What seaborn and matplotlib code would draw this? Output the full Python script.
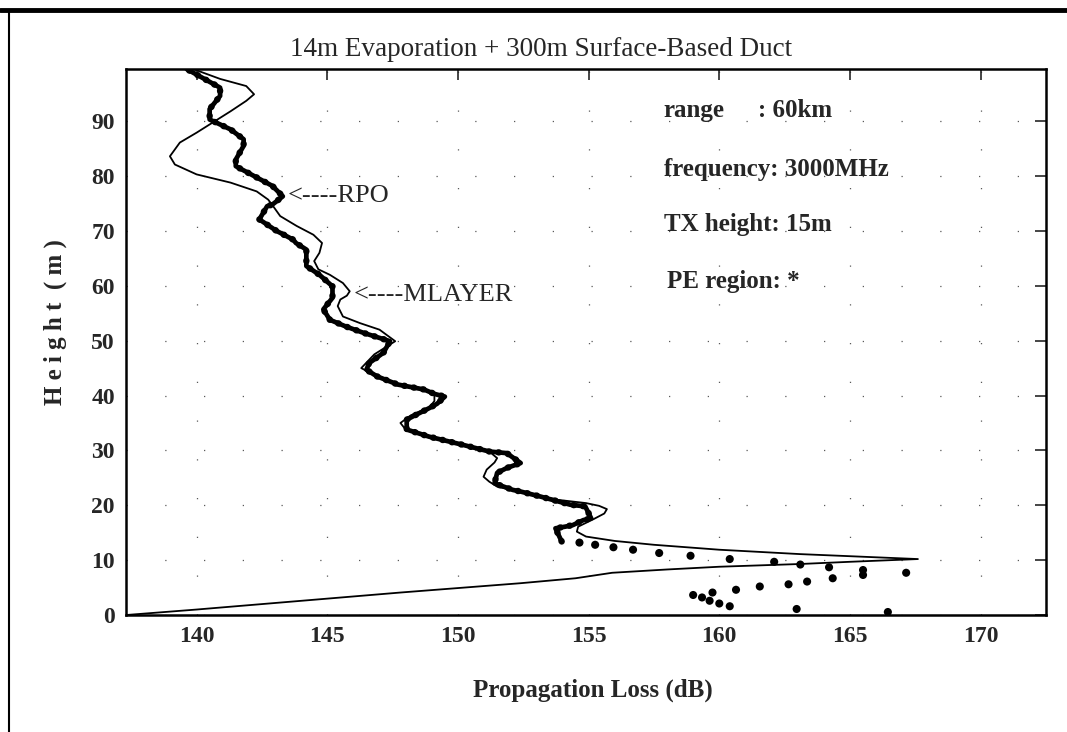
import pandas as pd
import seaborn as sns
import matplotlib.pyplot as plt
from matplotlib.lines import Line2D

# MLAYER result (thin line), loss vs height
mlayer_height = [0.0, 1.0, 4.1, 5.8, 6.7, 7.7, 8.3, 8.8, 9.3, 9.7, 10.2,
                 11.1, 11.9, 12.8, 13.5, 14.3, 15.2, 16.1, 17.5, 18.5, 19.3,
                 19.9, 20.4, 21.0, 22.5, 23.4, 24.3, 25.2, 26.5, 27.8, 28.6,
                 29.8, 31.0, 32.5, 33.8, 35.0, 36.4, 37.8, 39.0, 40.3, 41.1,
                 42.0, 43.5, 45.0, 47.5, 49.9, 52.0, 53.2, 54.4, 56.3, 57.5,
                 58.2, 59.0, 60.5, 62.0, 63.0, 64.5, 66.0, 67.8, 69.3, 70.9,
                 72.7, 74.5, 75.7, 77.2, 78.8, 80.3, 82.1, 83.6, 86.1, 87.9,
                 89.7, 91.8, 93.7, 94.9, 96.4, 97.7, 99.5]
mlayer_loss = [137.3, 140.0, 147.8, 152.4, 154.5, 155.9, 158.0, 160.0, 163.1, 165.0, 167.6,
               163.1, 160.0, 157.5, 156.0, 154.9, 154.55, 154.6, 155.2, 155.6, 155.7,
               155.4, 154.9, 153.8, 152.4, 151.5, 151.2, 150.98, 151.1, 151.4, 151.5,
               151.2, 150.2, 148.9, 148.0, 147.8, 148.2, 148.9, 149.1, 149.1, 148.7,
               147.7, 146.9, 146.3, 146.8, 147.6, 147.0, 146.25, 145.6, 145.4, 145.5,
               145.75, 145.86, 145.6, 145.1, 144.66, 144.5, 144.7, 144.8, 144.47, 143.83,
               143.2, 142.93, 142.74, 142.3, 141.3, 140.0, 139.17, 138.98, 139.36, 140.0,
               140.6, 141.3, 141.9, 142.2, 141.9, 140.9, 139.87]

# RPO result (thick dotted line)
rpo_height = [13.4, 15.8, 16.1, 16.4, 17.3, 17.6, 19.8, 20.1, 21.6, 22.5,
              22.8, 24.0, 25.9, 26.8, 27.7, 29.5, 29.8, 31.0, 32.5, 33.8,
              35.6, 36.5, 37.7, 38.5, 39.8, 40.3, 41.1, 42.0, 43.5, 44.7,
              45.9, 47.8, 49.9, 50.5, 51.4, 52.6, 53.8, 55.7, 57.8, 59.9,
              62.0, 63.6, 65.4, 66.6, 67.8, 68.4, 70.0, 72.1, 73.3, 74.5,
              74.8, 76.3, 78.2, 80.0, 81.8, 83.0, 85.5, 86.7, 88.5, 90.3,
              92.2, 94.6, 96.1, 99.5]
rpo_loss = [153.97, 153.73, 154.1, 154.4, 154.8, 155.1, 154.87, 154.3, 153.15, 152.4,
            152.1, 151.4, 151.5, 151.87, 152.4, 151.87, 151.2, 150.2, 148.9, 148.04,
            148.04, 148.4, 148.9, 149.2, 149.5, 149.1, 148.7, 147.7, 146.9, 146.5,
            146.6, 147.15, 147.4, 147.0, 146.4, 145.7, 145.1, 144.85, 145.2, 145.2,
            144.7, 144.2, 144.2, 144.2, 143.8, 143.7, 143.06, 142.4, 142.55, 142.7,
            142.9, 143.3, 142.9, 142.2, 141.5, 141.5, 141.8, 141.8, 141.3, 140.5,
            140.5, 140.9, 140.9, 139.62]

# PE region points of RPO
pe_height = [13.2, 12.8, 12.35, 11.9, 11.3, 10.8, 10.2, 9.7, 9.2, 8.7, 8.2, 7.7, 7.3,
             6.7, 6.1, 5.6, 5.2, 4.6, 4.1, 3.65, 3.2, 2.6, 2.1, 1.6, 1.1, 0.55]
pe_loss = [154.65, 155.25, 155.95, 156.7, 157.7, 158.9, 160.4, 162.1, 163.1, 164.2, 165.5, 167.15, 165.5,
           164.34, 163.36, 162.65, 161.55, 160.64, 159.74, 159.0, 159.34, 159.63, 160.0, 160.4, 162.96, 166.45]

x_ticks = [140, 145, 150, 155, 160, 165, 170]
y_ticks = [0, 10, 20, 30, 40, 50, 60, 70, 80, 90]

sns.set_theme(style='white')
plt.rcParams['font.family'] = ['Liberation Serif', 'DejaVu Serif']

fig = plt.figure(figsize=(10.67, 7.32), dpi=100)
ax = fig.add_axes([0.1181, 0.1598, 0.8622, 0.7459])

mlayer = pd.DataFrame({'loss': mlayer_loss, 'height': mlayer_height})
rpo = pd.DataFrame({'loss': rpo_loss, 'height': rpo_height})
pe = pd.DataFrame({'loss': pe_loss, 'height': pe_height})

sns.lineplot(data=mlayer, x='loss', y='height', sort=False, estimator=None,
             color='black', lw=1.3, ax=ax)
sns.lineplot(data=rpo, x='loss', y='height', sort=False, estimator=None,
             color='black', lw=3.4, ax=ax)
sns.lineplot(data=rpo, x='loss', y='height', sort=False, estimator=None,
             color='black', lw=4.6, ls=(0, (0.1, 1.4)), dash_capstyle='round', ax=ax)
sns.scatterplot(data=pe, x='loss', y='height', color='black', s=34,
                edgecolor='none', ax=ax)

ax.set_xlim(137.3, 172.5)
ax.set_ylim(0, 99.5)
ax.set_xticks(x_ticks)
ax.set_yticks(y_ticks)
ax.set_xlabel('')
ax.set_ylabel('')
ax.grid(True, color='0.35', lw=0.9, ls=(0, (1, 30)))
ax.tick_params(direction='in', length=8, width=1.2, top=True, right=True,
               labelsize=17, pad=8)
for lab in ax.get_xticklabels() + ax.get_yticklabels():
    lab.set_fontweight('bold')
for sp in ax.spines.values():
    sp.set_linewidth(1.8)
    sp.set_color('black')

ax.text(143.5, 76.3, '<----RPO', fontsize=19, va='center', ha='left')
ax.text(146.0, 58.4, '<----MLAYER', fontsize=19, va='center', ha='left')

ax.text(157.85, 92.0, 'range', fontsize=18, fontweight='bold', va='center', ha='left')
ax.text(161.5, 92.0, ': 60km', fontsize=18, fontweight='bold', va='center', ha='left')
ax.text(157.9, 81.2, 'frequency: 3000MHz', fontsize=18, fontweight='bold',
        va='center', ha='left')
ax.text(157.9, 71.2, 'TX height: 15m', fontsize=18, fontweight='bold',
        va='center', ha='left')
ax.text(158.0, 60.8, 'PE region: *', fontsize=18, fontweight='bold',
        va='center', ha='left')

fig.text(0.5075, 0.932, '14m Evaporation + 300m Surface-Based Duct',
         fontsize=19.5, ha='center', va='center')
fig.text(0.556, 0.057, 'Propagation Loss (dB)', fontsize=18,
         fontweight='bold', ha='center', va='center')
fig.text(0.0515, 0.56, 'H e i g h t  ( m )', fontsize=18, fontweight='bold',
         rotation=90, ha='center', va='center')

# scanned page frame
fig.add_artist(Line2D([0, 1], [0.986, 0.986], color='black', lw=3.5))
fig.add_artist(Line2D([0.008, 0.008], [0, 0.986], color='black', lw=1.5))

fig.savefig('out.png', dpi=100)
